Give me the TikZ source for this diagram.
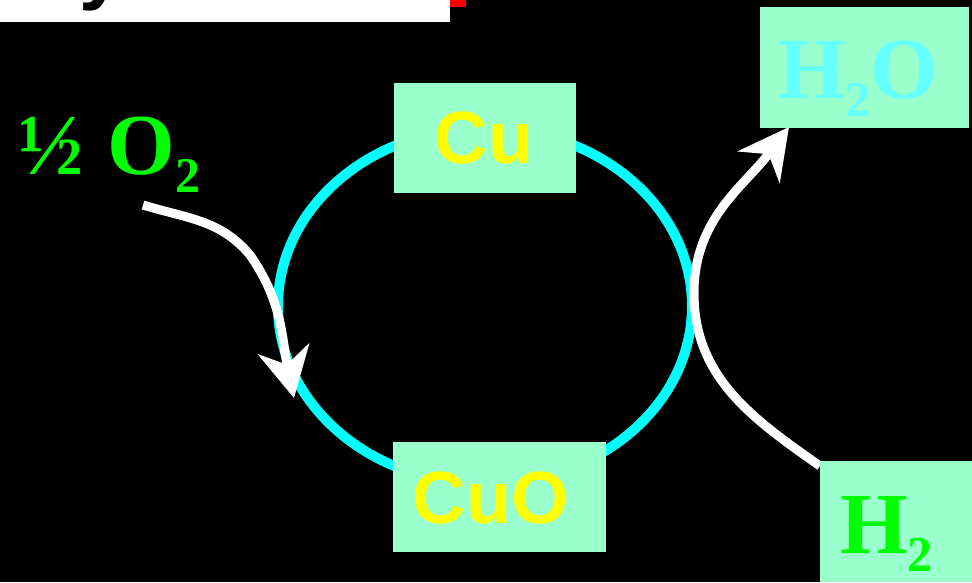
\documentclass[tikz,border=0pt]{standalone}
\usepackage{fontspec}
\setmainfont{Liberation Serif}
\newfontfamily\arialfont{Liberation Sans}
\usetikzlibrary{arrows.meta,shapes.geometric}
\definecolor{mint}{HTML}{99FFCC}
\definecolor{cuyellow}{HTML}{FFFF00}
\definecolor{ringcyan}{HTML}{00FFFF}
\definecolor{lightcyan}{HTML}{66FFFF}
\definecolor{brightgreen}{HTML}{00FF00}
\definecolor{topred}{HTML}{FF0000}
\newcommand{\chemsub}[1]{\raisebox{-18pt}{\fontsize{50pt}{50pt}\selectfont #1}}
\begin{document}
\begin{tikzpicture}[x=1pt,y=1pt,
  box/.style={fill=mint, draw=none, inner sep=0pt, outer sep=0pt, rectangle},
  cutext/.style={text=cuyellow, font=\arialfont\bfseries\fontsize{74pt}{74pt}\selectfont, inner sep=0pt, outer sep=0pt},
  chem/.style={font=\bfseries\fontsize{87pt}{87pt}\selectfont, inner sep=0pt, outer sep=0pt, anchor=base west},
  flow/.style={draw=white, line width=9pt, -{Stealth[length=50pt, width=52pt, inset=16pt]}},
]
\fill[black] (0,0) rectangle (972,582);
\useasboundingbox (0,0) rectangle (972,582);
% top banner fragment
\fill[white] (0,560) rectangle (450,582);
\fill[topred] (450,575) rectangle (466,582);
\begin{scope}
  \clip (0,560) rectangle (450,582);
  \node[anchor=base west, font=\arialfont\bfseries\fontsize{80pt}{80pt}\selectfont, inner sep=0pt] (title) at (79,587) {y};
\end{scope}
% cycle ring
\node[ellipse, draw=ringcyan, line width=10pt, minimum width=414pt, minimum height=356pt, inner sep=0pt] (ring) at (485,276) {};
% arrows
\coordinate (o2start) at (143,377);
\coordinate (o2bend) at (250,327);
\coordinate (o2end) at (294,184);
\draw[flow] (o2start) to[out=-17,in=130] (o2bend) to[out=-55,in=102] (o2end);
\coordinate (h2start) at (820,116);
\coordinate (h2mid) at (694,289);
\coordinate (h2end) at (789,455);
\draw[flow] (h2start) to[out=145,in=-90] (h2mid) to[out=90,in=233] (h2end);
% boxes
\node[box, minimum width=182pt, minimum height=110pt] (cu) at (485,444) {};
\node[cutext] (cutxt) at (484,443.5) {Cu};
\node[box, minimum width=213pt, minimum height=110pt] (cuo) at (499.5,85) {};
\node[cutext] (cuotxt) at (491,83.5) {CuO};
\node[box, minimum width=209pt, minimum height=121pt] (h2o) at (864.5,514.5) {};
\node[chem, text=lightcyan] (h2otxt) at (778,483) {H\chemsub{2}O};
\node[box, minimum width=152pt, minimum height=121pt, anchor=south west] (h2) at (820,0) {};
\node[chem, text=brightgreen] (h2txt) at (840,29) {H\chemsub{2}};
\node[chem, text=brightgreen] (o2txt) at (18,407) {½\hspace{3pt} O\chemsub{2}};
\end{tikzpicture}
\end{document}
